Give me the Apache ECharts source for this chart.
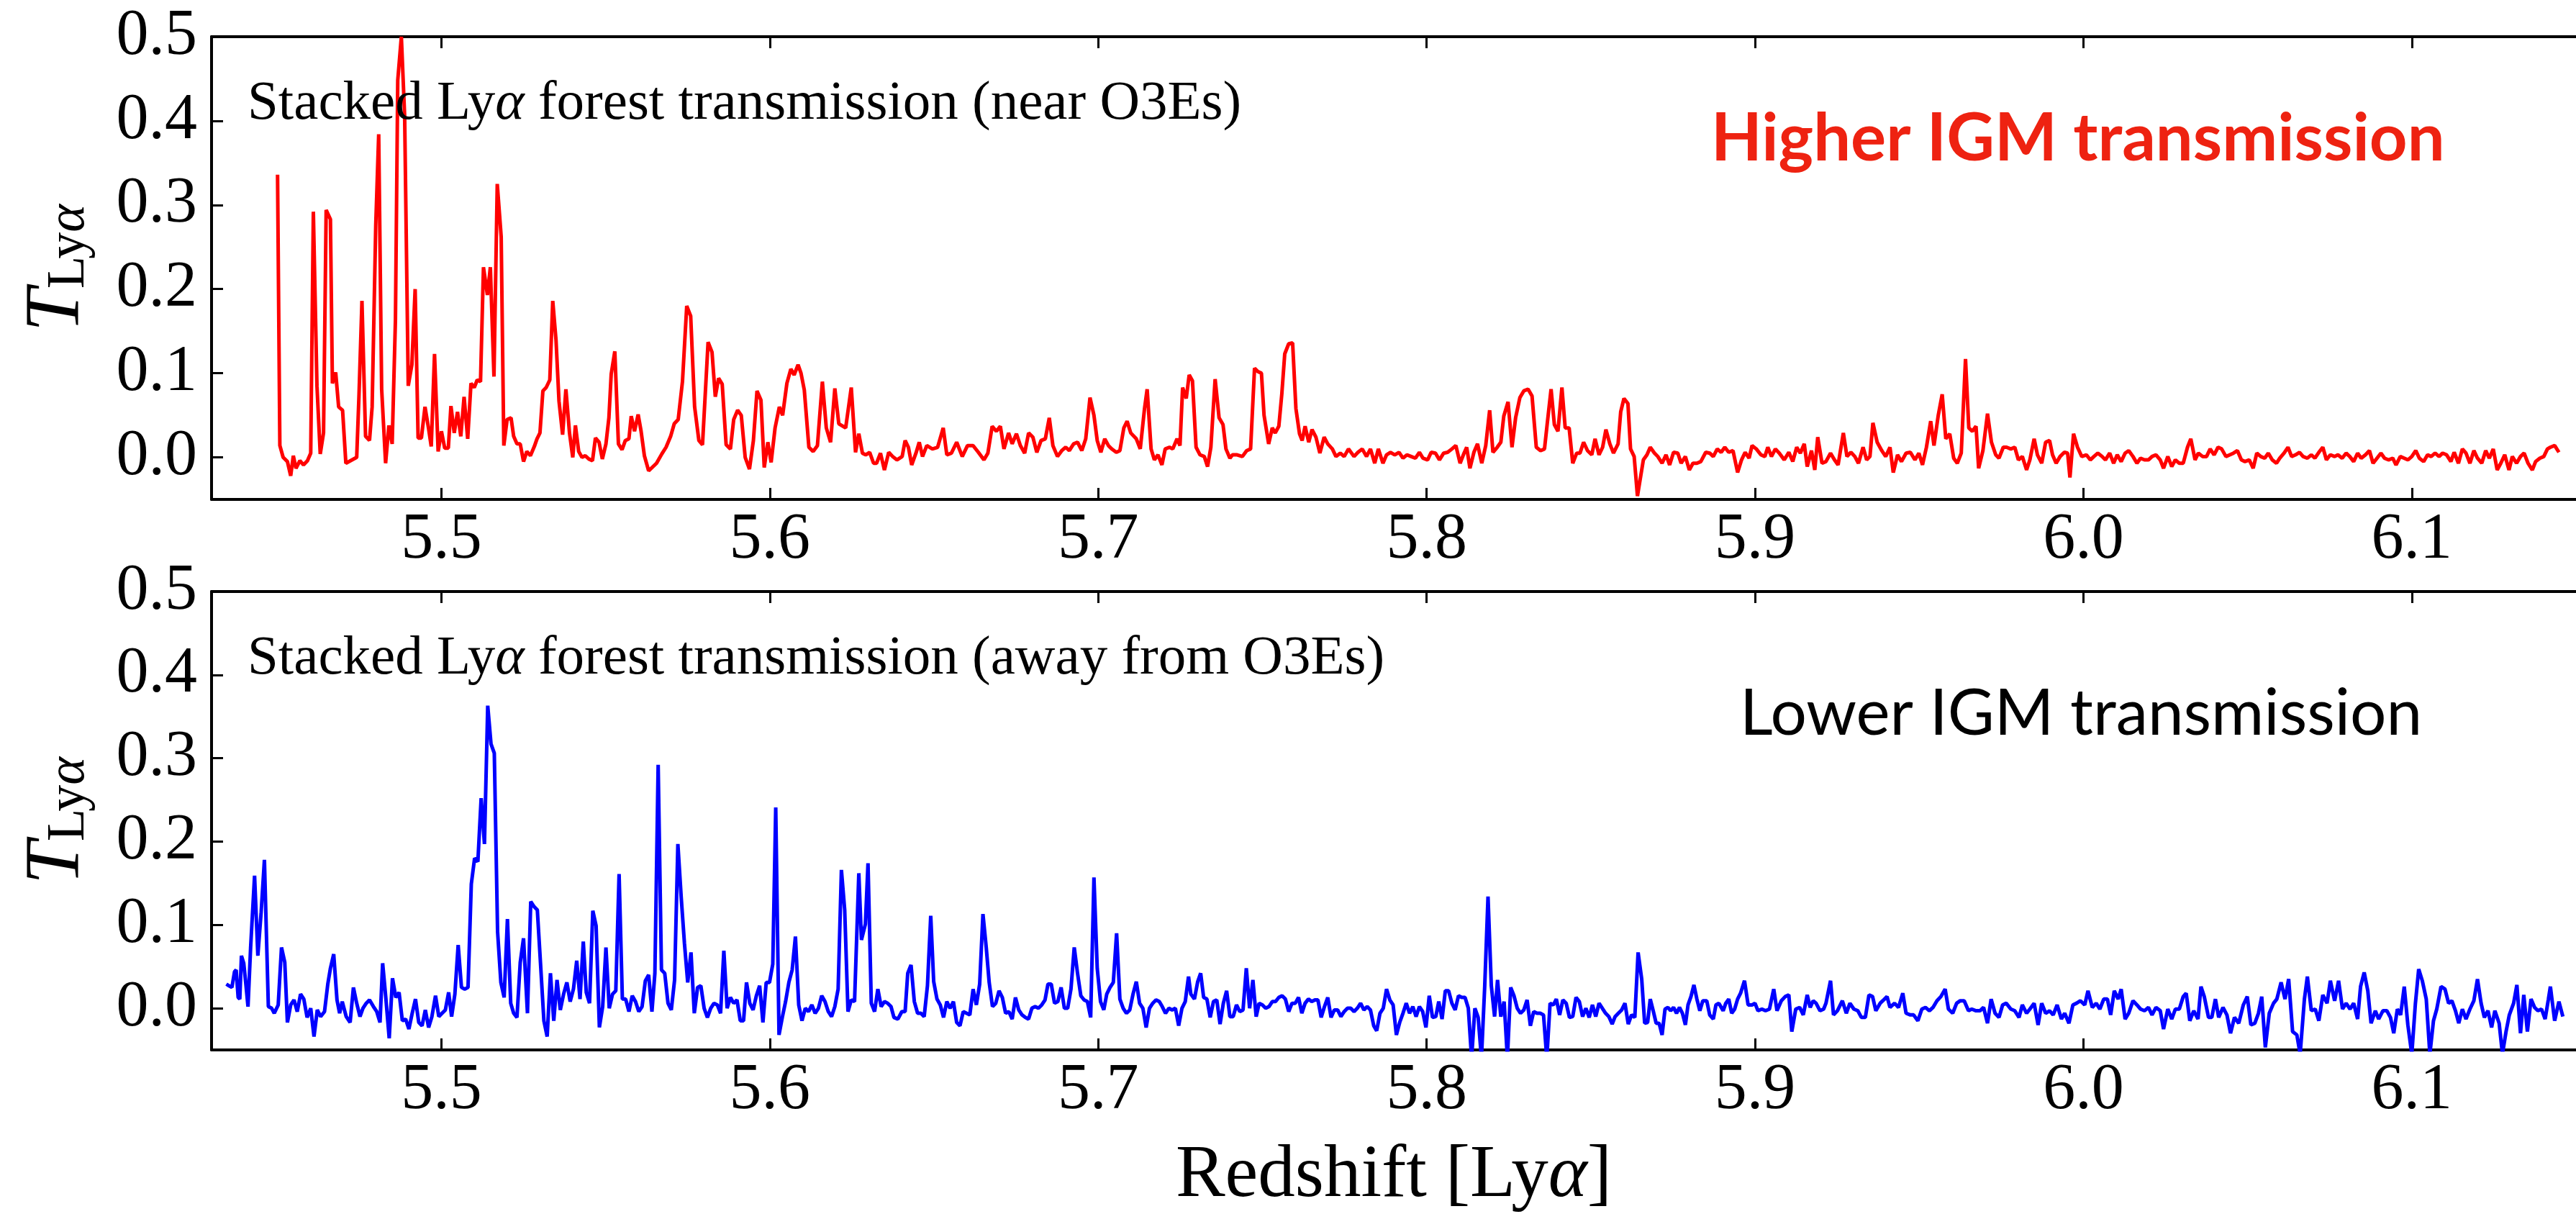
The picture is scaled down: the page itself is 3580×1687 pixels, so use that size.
<!DOCTYPE html>
<html>
<head>
<meta charset="utf-8">
<script src="https://cdn.jsdelivr.net/npm/echarts@6/dist/echarts.min.js"></script>
<style>
html,body{margin:0;padding:0;background:#fff;}
#chart{width:3580px;height:1687px;}
</style>
</head>
<body>
<div id="chart"></div>
<script>
// ---------------- DATA ----------------
const xTicks = [5.5, 5.6, 5.7, 5.8, 5.9, 6.0, 6.1];
const yTicks = [0.0, 0.1, 0.2, 0.3, 0.4, 0.5];

// Stacked Lya forest transmission near O3Es : [redshift, T]
const nearPoints = [
[5.4501,0.336],[5.4508,0.014],[5.4518,0.0],[5.4531,-0.005],[5.4541,-0.022],[5.4549,0.002],[5.4557,-0.013],[5.4569,-0.004],[5.4580,-0.009],[5.4592,-0.004],[5.4602,0.005],[5.4610,0.292],[5.4621,0.085],[5.4631,0.004],[5.4641,0.029],[5.4649,0.294],[5.4662,0.283],[5.4668,0.088],[5.4678,0.101],[5.4687,0.060],[5.4699,0.056],[5.4709,-0.007],[5.4723,-0.004],[5.4742,0.0],[5.4749,0.074],[5.4758,0.186],[5.4769,0.025],[5.4781,0.020],[5.4789,0.060],[5.4800,0.276],[5.4809,0.384],[5.4818,0.081],[5.4830,-0.007],[5.4840,0.038],[5.4850,0.016],[5.4860,0.164],[5.4867,0.448],[5.4878,0.500],[5.4888,0.406],[5.4899,0.085],[5.4910,0.110],[5.4920,0.200],[5.4929,0.023],[5.4939,0.023],[5.4950,0.060],[5.4961,0.034],[5.4969,0.013],[5.4979,0.123],[5.4990,0.007],[5.5000,0.031],[5.5010,0.011],[5.5021,0.011],[5.5029,0.061],[5.5039,0.029],[5.5049,0.054],[5.5059,0.025],[5.5069,0.072],[5.5080,0.022],[5.5090,0.088],[5.5100,0.083],[5.5109,0.092],[5.5119,0.090],[5.5128,0.226],[5.5140,0.193],[5.5149,0.226],[5.5160,0.096],[5.5170,0.325],[5.5182,0.262],[5.5190,0.014],[5.5200,0.045],[5.5212,0.047],[5.5220,0.025],[5.5230,0.016],[5.5240,0.016],[5.5250,-0.005],[5.5260,0.007],[5.5271,0.002],[5.5283,0.013],[5.5291,0.022],[5.5300,0.029],[5.5309,0.079],[5.5319,0.083],[5.5330,0.092],[5.5339,0.186],[5.5349,0.139],[5.5358,0.067],[5.5369,0.027],[5.5379,0.081],[5.5390,0.029],[5.5400,0.0],[5.5408,0.038],[5.5418,0.007],[5.5428,0.0],[5.5438,0.002],[5.5449,-0.002],[5.5460,-0.004],[5.5469,0.023],[5.5480,0.018],[5.5490,-0.002],[5.5501,0.016],[5.5510,0.047],[5.5517,0.099],[5.5528,0.126],[5.5539,0.016],[5.5550,0.009],[5.5560,0.020],[5.5571,0.022],[5.5578,0.049],[5.5588,0.031],[5.5599,0.051],[5.5608,0.031],[5.5618,0.002],[5.5631,-0.016],
[5.5655,-0.007],[5.5671,0.004],[5.5684,0.012],[5.5698,0.025],[5.5709,0.040],[5.5721,0.045],[5.5734,0.090],[5.5747,0.180],[5.5759,0.168],[5.5771,0.060],[5.5784,0.020],[5.5795,0.015],[5.5812,0.137],[5.5824,0.125],[5.5834,0.072],[5.5844,0.094],[5.5855,0.087],[5.5867,0.015],[5.5880,0.010],[5.5890,0.045],[5.5902,0.056],[5.5913,0.050],[5.5925,0.000],[5.5938,-0.014],[5.5950,0.020],[5.5961,0.079],[5.5973,0.068],[5.5983,-0.012],[5.5994,0.018],[5.6004,-0.006],[5.6016,0.035],[5.6029,0.060],[5.6039,0.050],[5.6052,0.088],[5.6064,0.105],[5.6074,0.098],[5.6086,0.110],[5.6095,0.100],[5.6105,0.080],[5.6119,0.012],[5.6132,0.007],[5.6145,0.014],[5.6160,0.090],[5.6172,0.035],[5.6185,0.018],[5.6198,0.082],[5.6210,0.040],[5.6231,0.035],[5.6248,0.083],[5.6261,0.006],
[5.6271,0.028],[5.6282,0.005],[5.6292,0.003],[5.6304,0.006],[5.6316,-0.007],[5.6325,-0.007],[5.6337,0.005],[5.6349,-0.015],[5.6362,0.006],[5.6374,0.001],[5.6387,-0.003],[5.6403,0.001],[5.6412,0.020],[5.6422,0.012],[5.6432,-0.009],[5.6445,0.005],[5.6455,0.018],[5.6465,0.001],[5.6478,0.014],[5.6495,0.010],[5.6511,0.012],[5.6528,0.035],[5.6539,0.003],[5.6553,0.005],[5.6569,0.018],[5.6586,0.001],[5.6602,0.014],[5.6619,0.014],[5.6635,0.006],[5.6652,-0.003],[5.6664,0.005],[5.6677,0.037],[5.6690,0.031],[5.6702,0.037],[5.6713,0.010],[5.6727,0.029],[5.6738,0.016],[5.6751,0.028],[5.6763,0.014],[5.6776,0.005],[5.6788,0.029],[5.6801,0.024],[5.6813,0.006],[5.6826,0.020],[5.6839,0.022],[5.6851,0.047],[5.6862,0.014],[5.6876,0.001],[5.6889,0.008],[5.6901,0.012],[5.6912,0.008],[5.6925,0.016],[5.6937,0.018],[5.6950,0.008],[5.6962,0.022],[5.6975,0.071],[5.6987,0.050],[5.6997,0.020],[5.7008,0.006],[5.7020,0.022],[5.7031,0.014],[5.7041,0.010],[5.7055,0.006],[5.7066,0.008],[5.7078,0.035],[5.7088,0.043],[5.7099,0.029],[5.7116,0.022],[5.7128,0.010],[5.7141,0.058],[5.7149,0.081],[5.7161,0.010],[5.7171,-0.003],[5.7182,0.003],[5.7194,-0.009],[5.7204,0.010],[5.7217,0.012],[5.7227,0.010],[5.7240,0.022],[5.7249,0.014],[5.7257,0.083],[5.7268,0.070],[5.7277,0.098],[5.7287,0.091],[5.7298,0.012],[5.7310,0.003],[5.7323,0.001],[5.7333,-0.011],[5.7343,0.012],[5.7356,0.093],[5.7368,0.047],[5.7380,0.039],[5.7389,0.010],[5.7401,-0.001],[5.7409,0.003],[5.7423,0.003],[5.7439,0.001],[5.7452,0.008],[5.7464,0.010],[5.7476,0.106],[5.7486,0.102],[5.7497,0.100],[5.7505,0.050],[5.7519,0.016],[5.7530,0.035],[5.7539,0.029],[5.7550,0.037],[5.7559,0.075],[5.7568,0.123],[5.7580,0.135],[5.7592,0.136],[5.7602,0.058],[5.7613,0.028],[5.7621,0.020],[5.7630,0.037],[5.7641,0.018],[5.7651,0.033],[5.7663,0.024],[5.7675,0.005],[5.7688,0.024],[5.7699,0.016],[5.7713,0.010],[5.7724,0.001],[5.7737,0.005],[5.7749,0.001],[5.7762,0.010],[5.7779,0.001],[5.7791,0.006],[5.7804,0.010],[5.7817,0.001],[5.7829,0.010],[5.7842,-0.007],[5.7853,0.010],[5.7867,-0.007],[5.7878,0.003],[5.7890,0.006],[5.7903,0.003],[5.7916,0.006],[5.7928,-0.001],[5.7940,0.003],[5.7953,0.001],[5.7966,-0.001],[5.7978,0.006],[5.7989,-0.001],[5.8003,-0.003],[5.8014,0.006],[5.8027,0.005],[5.8039,-0.003],[5.8052,0.005],[5.8064,0.006],[5.8077,0.010],[5.8089,0.014],[5.8102,-0.007],[5.8114,0.005],[5.8122,0.012],[5.8132,-0.013],[5.8144,0.006],[5.8155,0.016],[5.8168,-0.007],[5.8180,0.014],[5.8192,0.056],[5.8202,0.006],[5.8215,0.012],[5.8226,0.018],[5.8235,0.049],[5.8248,0.066],[5.8260,0.012],[5.8271,0.047],[5.8284,0.071],[5.8296,0.079],[5.8309,0.081],[5.8321,0.073],[5.8334,0.012],[5.8347,0.008],[5.8359,0.010],[5.8367,0.039],[5.8379,0.081],[5.8389,0.039],[5.8400,0.031],[5.8412,0.083],[5.8422,0.035],[5.8434,0.035],[5.8445,-0.007],[5.8457,0.005],[5.8467,0.005],[5.8478,0.018],[5.8490,0.008],[5.8503,0.003],[5.8513,0.022],[5.8525,0.003],[5.8536,0.012],[5.8546,0.033],[5.8558,0.016],[5.8569,0.005],[5.8583,0.016],[5.8591,0.054],[5.8601,0.070],[5.8613,0.064],[5.8621,0.010],[5.8632,0.001],[5.8642,-0.046],
[5.8660,-0.003],[5.8671,0.003],[5.8681,0.012],[5.8694,0.005],[5.8704,0.001],[5.8717,-0.007],[5.8729,0.003],[5.8740,-0.009],[5.8752,0.006],[5.8765,0.005],[5.8775,-0.007],[5.8788,0.001],[5.8800,-0.015],[5.8811,-0.007],[5.8823,-0.007],[5.8835,-0.005],[5.8850,0.006],[5.8862,0.005],[5.8873,0.001],[5.8885,0.010],[5.8897,0.006],[5.8908,0.012],[5.8920,0.006],[5.8933,0.008],[5.8947,-0.018],[5.8959,-0.003],[5.8970,0.006],[5.8982,-0.001],[5.8991,0.014],[5.9004,0.010],[5.9018,0.003],[5.9030,0.001],[5.9039,0.012],[5.9050,0.001],[5.9062,0.010],[5.9074,0.005],[5.9089,-0.003],[5.9103,0.006],[5.9115,-0.005],[5.9127,0.012],[5.9138,0.005],[5.9150,0.016],[5.9159,-0.011],[5.9172,0.008],[5.9182,-0.015],[5.9191,0.024],[5.9204,-0.007],[5.9216,-0.005],[5.9230,0.005],[5.9242,-0.003],[5.9253,-0.009],[5.9269,0.029],[5.9280,0.001],[5.9292,0.006],[5.9304,0.001],[5.9315,-0.007],[5.9329,0.012],[5.9340,-0.003],[5.9350,0.001],[5.9359,0.041],[5.9372,0.018],[5.9386,0.008],[5.9398,0.001],[5.9411,0.012],[5.9421,-0.018],[5.9434,0.003],[5.9446,-0.005],[5.9460,0.005],[5.9473,0.006],[5.9487,-0.003],[5.9499,0.005],[5.9510,-0.009],[5.9522,0.012],[5.9535,0.043],[5.9545,0.014],[5.9558,0.050],[5.9570,0.075],[5.9581,0.022],[5.9593,0.028],[5.9605,-0.001],[5.9616,-0.007],[5.9628,0.005],[5.9641,0.117],[5.9651,0.035],[5.9662,0.031],[5.9673,0.037],[5.9681,-0.013],[5.9694,0.008],[5.9708,0.052],[5.9720,0.018],[5.9733,0.003],[5.9743,-0.001],[5.9756,0.012],[5.9766,0.012],[5.9779,0.010],[5.9791,0.012],[5.9802,-0.003],[5.9814,0.001],[5.9827,-0.015],[5.9837,-0.003],[5.9850,0.022],[5.9860,0.003],[5.9873,-0.007],[5.9885,0.018],[5.9897,0.020],[5.9906,0.003],[5.9917,-0.007],[5.9929,0.001],[5.9942,0.006],[5.9952,0.005],[5.9959,-0.024],[5.9970,0.028],[5.9982,0.012],[5.9995,0.001],[6.0009,0.003],[6.0021,-0.003],[6.0032,0.001],[6.0044,0.005],[6.0057,0.001],[6.0067,-0.003],[6.0080,0.005],[6.0092,-0.007],[6.0103,0.003],[6.0115,-0.005],[6.0127,0.005],[6.0138,0.008],[6.0151,0.001],[6.0163,-0.007],[6.0174,-0.001],[6.0186,-0.003],[6.0198,-0.003],[6.0209,0.001],[6.0221,0.003],[6.0234,-0.003],[6.0244,-0.013],[6.0257,0.001],[6.0269,-0.011],[6.0280,-0.003],[6.0292,-0.007],[6.0304,-0.007],[6.0317,0.012],[6.0327,0.022],[6.0340,-0.003],[6.0350,0.005],[6.0363,0.001],[6.0375,0.001],[6.0386,0.010],[6.0398,0.003],[6.0410,0.012],[6.0421,0.010],[6.0434,0.001],[6.0446,0.003],[6.0457,0.005],[6.0469,0.008],[6.0481,-0.003],[6.0492,-0.005],[6.0505,-0.003],[6.0517,-0.013],[6.0528,0.005],[6.0540,0.001],[6.0552,-0.001],[6.0563,0.005],[6.0575,-0.003],[6.0588,-0.007],[6.0598,-0.001],[6.0611,0.005],[6.0623,0.012],[6.0634,0.001],[6.0646,0.003],[6.0658,0.006],[6.0669,0.001],[6.0682,-0.001],[6.0694,0.003],[6.0705,-0.001],[6.0717,0.006],[6.0729,0.012],[6.0740,-0.003],[6.0752,0.003],[6.0765,0.001],[6.0775,0.003],[6.0788,-0.001],[6.0800,0.005],[6.0811,0.001],[6.0823,-0.005],[6.0835,0.005],[6.0846,-0.001],[6.0859,0.003],[6.0871,0.008],[6.0882,-0.007],[6.0894,-0.001],[6.0906,0.005],[6.0917,-0.001],[6.0929,-0.003],[6.0942,-0.001],[6.0952,-0.009],[6.0965,0.001],[6.0977,-0.001],[6.0988,-0.003],[6.1000,0.001],[6.1012,0.008],[6.1023,-0.001],[6.1036,-0.005],[6.1048,0.003],[6.1059,0.001],[6.1071,0.005],[6.1083,0.001],[6.1094,0.005],[6.1106,0.003],[6.1119,-0.005],[6.1129,0.006],[6.1142,-0.007],[6.1154,0.010],[6.1165,0.005],[6.1177,-0.007],[6.1189,0.008],[6.1200,-0.001],[6.1213,-0.007],[6.1225,0.008],[6.1236,-0.001],[6.1248,0.010],[6.1260,-0.015],[6.1271,-0.007],[6.1283,0.003],[6.1296,-0.015],[6.1306,0.001],[6.1319,-0.007],[6.1331,0.001],[6.1342,0.005],[6.1354,-0.007],[6.1367,-0.015],[6.1377,-0.005],[6.1390,-0.001],[6.1402,0.001],[6.1413,0.010],[6.1422,0.012],[6.1435,0.014],[6.1448,0.006]
];

// Stacked Lya forest transmission away from O3Es : [redshift, T]
const awayPoints = [
[5.4345,0.029],[5.4353,0.027],[5.4362,0.025],[5.4370,0.044],[5.4375,0.046],[5.4381,0.013],[5.4386,0.011],[5.4391,0.063],[5.4398,0.054],[5.4405,0.027],[5.4411,0.002],[5.4419,0.073],[5.4431,0.159],[5.4441,0.063],[5.4451,0.115],[5.4461,0.178],[5.4473,0.002],[5.4483,0.000],[5.4491,-0.006],[5.4503,0.004],[5.4513,0.073],[5.4523,0.055],[5.4531,-0.017],[5.4541,0.004],[5.4551,0.010],[5.4561,-0.004],[5.4571,0.017],[5.4581,0.011],[5.4591,-0.011],[5.4602,0.000],[5.4612,-0.034],[5.4622,-0.002],[5.4632,-0.010],[5.4644,-0.004],[5.4654,0.029],[5.4662,0.048],[5.4672,0.065],[5.4682,0.010],[5.4690,-0.006],[5.4698,0.008],[5.4710,-0.010],[5.4722,-0.017],[5.4732,0.025],[5.4742,0.006],[5.4752,-0.010],[5.4761,0.000],[5.4771,0.006],[5.4781,0.010],[5.4793,0.002],[5.4803,-0.004],[5.4813,-0.017],[5.4821,0.054],[5.4831,0.011],[5.4841,-0.036],[5.4851,0.036],[5.4861,0.013],[5.4871,0.019],[5.4881,-0.015],[5.4891,-0.013],[5.4901,-0.025],[5.4911,-0.006],[5.4921,0.011],[5.4931,-0.017],[5.4941,-0.021],[5.4951,-0.002],[5.4961,-0.023],[5.4971,-0.010],[5.4982,0.015],[5.4992,-0.010],[5.5002,-0.006],[5.5012,-0.002],[5.5022,0.019],[5.5031,-0.010],[5.5041,0.017],[5.5051,0.076],[5.5061,0.025],[5.5071,0.023],[5.5081,0.025],[5.5091,0.149],[5.5101,0.180],[5.5111,0.176],[5.5121,0.252],[5.5131,0.197],[5.5141,0.363],[5.5151,0.317],[5.5161,0.306],[5.5171,0.092],[5.5181,0.031],[5.5191,0.013],[5.5201,0.107],[5.5211,0.006],[5.5220,-0.006],[5.5230,-0.011],[5.5240,0.055],[5.5250,0.084],[5.5262,-0.006],[5.5272,0.128],[5.5282,0.122],[5.5292,0.118],[5.5302,0.052],[5.5312,-0.015],[5.5322,-0.034],[5.5332,0.042],[5.5342,-0.015],[5.5352,0.034],[5.5362,-0.002],[5.5372,0.017],[5.5382,0.031],[5.5392,0.008],[5.5402,0.023],[5.5412,0.057],[5.5422,0.011],[5.5432,0.080],[5.5441,0.019],[5.5451,0.006],[5.5461,0.117],[5.5471,0.099],[5.5481,-0.023],[5.5491,0.002],[5.5501,0.073],[5.5511,0.000],[5.5521,0.017],[5.5531,0.021],[5.5541,0.161],[5.5551,0.011],[5.5561,0.011],[5.5571,-0.004],[5.5581,0.015],[5.5591,0.008],[5.5601,-0.004],[5.5611,0.002],[5.5621,0.033],[5.5631,0.040],[5.5641,-0.004],[5.5650,0.042],[5.5660,0.292],[5.5670,0.046],[5.5680,0.042],[5.5690,0.006],[5.5700,-0.002],[5.5710,0.034],[5.5720,0.197],[5.5730,0.134],[5.5740,0.078],[5.5750,0.031],[5.5760,0.067],[5.5770,-0.006],[5.5780,0.025],[5.5790,0.027],[5.5800,0.000],[5.5810,-0.011],[5.5820,0.000],[5.5830,0.006],[5.5840,0.004],[5.5850,-0.006],[5.5860,0.069],[5.5870,0.000],[5.5880,0.013],[5.5890,0.006],[5.5900,0.010],[5.5910,-0.015],[5.5920,-0.015],[5.5929,0.031],[5.5939,0.006],[5.5949,-0.002],[5.5959,0.015],[5.5969,0.027],[5.5979,-0.017],[5.5989,0.031],[5.5999,0.031],[5.6009,0.053],[5.6018,0.241],[5.6028,-0.032],[5.6038,-0.011],[5.6048,0.008],[5.6058,0.031],[5.6068,0.046],[5.6078,0.086],[5.6088,0.004],[5.6098,-0.015],[5.6108,0.000],[5.6118,-0.004],[5.6128,0.004],[5.6138,-0.006],[5.6148,0.000],[5.6158,0.015],[5.6168,0.008],[5.6178,-0.004],[5.6188,-0.010],[5.6198,0.002],[5.6208,0.023],[5.6218,0.166],[5.6228,0.118],[5.6238,-0.004],[5.6248,0.010],[5.6258,0.008],
[5.6271,0.162],[5.6279,0.082],[5.6291,0.101],[5.6299,0.174],[5.6309,0.006],[5.6319,-0.004],[5.6329,0.023],[5.6339,0.002],[5.6349,0.008],[5.6359,0.006],[5.6369,0.002],[5.6378,-0.011],[5.6390,-0.013],[5.6402,-0.004],[5.6412,-0.004],[5.6420,0.042],[5.6430,0.052],[5.6440,0.008],[5.6450,-0.006],[5.6460,-0.006],[5.6470,-0.010],[5.6480,0.027],[5.6490,0.111],[5.6499,0.032],[5.6509,0.011],[5.6519,0.004],[5.6529,-0.011],[5.6539,0.008],[5.6549,0.000],[5.6559,0.008],[5.6569,-0.017],[5.6579,-0.021],[5.6589,-0.004],[5.6599,-0.006],[5.6609,-0.008],[5.6619,0.023],[5.6629,0.004],[5.6639,0.029],[5.6649,0.113],[5.6659,0.073],[5.6668,0.031],[5.6678,0.002],[5.6688,0.006],[5.6698,0.021],[5.6708,0.013],[5.6718,-0.006],[5.6728,-0.004],[5.6738,-0.013],[5.6748,0.013],[5.6758,-0.002],[5.6768,-0.008],[5.6778,-0.011],[5.6788,-0.013],[5.6798,0.000],[5.6808,0.002],[5.6818,0.000],[5.6828,0.004],[5.6838,0.010],[5.6847,0.029],[5.6857,0.029],[5.6867,0.006],[5.6877,0.008],[5.6887,0.025],[5.6897,0.000],[5.6907,0.000],[5.6917,0.023],[5.6927,0.073],[5.6937,0.042],[5.6947,0.015],[5.6957,0.010],[5.6967,0.008],[5.6977,-0.011],[5.6987,0.157],[5.6997,0.048],[5.7007,0.008],[5.7017,-0.002],[5.7026,0.017],[5.7036,0.025],[5.7046,0.031],[5.7056,0.090],[5.7066,0.011],[5.7076,0.000],[5.7086,-0.006],[5.7096,-0.002],[5.7106,0.017],[5.7116,0.032],[5.7126,0.006],[5.7136,0.000],[5.7146,-0.023],[5.7156,0.000],[5.7166,0.006],[5.7176,0.010],[5.7186,0.008],[5.7195,0.002],[5.7205,-0.006],[5.7215,0.000],[5.7225,-0.002],[5.7235,0.000],[5.7245,-0.021],[5.7255,0.000],[5.7265,0.008],[5.7275,0.038],[5.7282,0.017],[5.7293,0.011],[5.7303,0.032],[5.7312,0.042],[5.7321,0.013],[5.7331,0.011],[5.7341,-0.011],[5.7351,0.008],[5.7361,0.010],[5.7371,-0.019],[5.7381,0.006],[5.7391,0.021],[5.7401,-0.010],[5.7411,-0.010],[5.7421,0.004],[5.7431,-0.004],[5.7441,-0.002],[5.7451,0.048],[5.7461,0.000],[5.7471,0.034],[5.7481,-0.010],[5.7490,0.006],[5.7500,0.004],[5.7510,0.000],[5.7520,0.002],[5.7530,0.008],[5.7540,0.008],[5.7550,0.013],[5.7560,0.015],[5.7570,0.011],[5.7580,-0.004],[5.7590,0.006],[5.7600,0.006],[5.7610,0.013],[5.7620,-0.006],[5.7630,0.006],[5.7640,0.011],[5.7650,0.008],[5.7660,0.010],[5.7669,0.010],[5.7679,-0.011],[5.7689,0.002],[5.7699,0.013],[5.7709,-0.011],[5.7719,-0.002],[5.7729,-0.002],[5.7739,-0.010],[5.7749,-0.004],[5.7759,0.000],[5.7769,0.000],[5.7779,-0.004],[5.7789,0.000],[5.7799,0.006],[5.7809,-0.002],[5.7819,0.002],[5.7829,-0.002],[5.7839,-0.021],[5.7848,-0.027],[5.7858,-0.006],[5.7868,0.000],[5.7878,0.023],[5.7888,0.010],[5.7898,0.004],[5.7908,-0.032],[5.7918,-0.017],[5.7928,-0.006],[5.7938,0.006],[5.7948,-0.006],[5.7958,0.002],[5.7968,-0.010],[5.7978,0.002],[5.7988,-0.004],[5.7998,-0.023],[5.8008,0.015],[5.8018,-0.011],[5.8028,-0.010],[5.8037,0.008],[5.8047,-0.013],[5.8057,0.021],[5.8067,0.021],[5.8077,0.006],[5.8087,-0.002],[5.8097,0.015],[5.8107,0.013],[5.8117,0.013],[5.8127,0.000],[5.8137,-0.060],[5.8147,0.000],[5.8157,-0.011],[5.8167,-0.060],[5.8177,0.027],[5.8187,0.134],[5.8197,0.027],[5.8207,-0.010],[5.8216,0.034],[5.8226,-0.010],[5.8236,0.008],[5.8246,-0.060],[5.8256,0.025],[5.8266,0.015],[5.8276,0.000],[5.8286,-0.006],[5.8296,-0.002],[5.8306,0.010],[5.8316,-0.021],[5.8326,-0.004],[5.8336,-0.006],[5.8346,-0.006],[5.8356,-0.008],[5.8366,-0.060],[5.8376,0.006],[5.8386,0.004],[5.8395,0.011],[5.8405,-0.008],[5.8415,0.010],[5.8425,0.006],[5.8435,-0.011],[5.8445,-0.010],[5.8455,0.013],[5.8465,0.008],[5.8475,-0.010],[5.8485,0.000],[5.8495,-0.011],[5.8505,0.004],[5.8515,-0.010],[5.8525,0.006],[5.8535,0.000],[5.8545,-0.006],[5.8555,-0.010],[5.8565,-0.019],[5.8574,-0.010],[5.8584,-0.006],[5.8594,-0.002],[5.8604,0.006],[5.8614,-0.019],[5.8624,-0.008],[5.8634,-0.011],[5.8644,0.067],
[5.8655,0.035],[5.8664,-0.018],[5.8673,-0.017],[5.8681,0.011],[5.8690,-0.003],[5.8699,-0.018],[5.8708,-0.018],[5.8717,-0.032],[5.8726,-0.001],[5.8735,0.001],[5.8743,-0.003],[5.8752,0.001],[5.8761,-0.006],[5.8770,0.001],[5.8779,-0.006],[5.8788,-0.020],[5.8796,0.004],[5.8805,0.014],[5.8814,0.028],[5.8823,0.011],[5.8832,-0.003],[5.8841,0.009],[5.8853,0.009],[5.8862,-0.008],[5.8873,-0.013],[5.8881,0.004],[5.8890,0.006],[5.8903,-0.003],[5.8911,0.006],[5.8920,0.011],[5.8929,-0.006],[5.8938,-0.001],[5.8947,0.011],[5.8956,0.018],[5.8968,0.033],[5.8979,0.004],[5.8991,0.004],[5.9000,0.006],[5.9009,-0.003],[5.9021,-0.001],[5.9032,-0.003],[5.9044,-0.001],[5.9057,0.023],[5.9067,-0.003],[5.9080,0.009],[5.9092,0.014],[5.9103,0.016],[5.9112,-0.028],[5.9124,-0.001],[5.9136,0.001],[5.9147,-0.008],[5.9159,0.016],[5.9168,0.001],[5.9177,0.009],[5.9186,0.006],[5.9198,-0.003],[5.9209,-0.001],[5.9216,0.006],[5.9230,0.033],[5.9239,-0.008],[5.9251,-0.003],[5.9266,0.009],[5.9278,-0.006],[5.9289,0.006],[5.9301,-0.001],[5.9313,-0.003],[5.9324,-0.011],[5.9336,-0.011],[5.9347,0.016],[5.9358,0.014],[5.9368,-0.003],[5.9381,0.006],[5.9389,0.009],[5.9402,0.014],[5.9411,0.001],[5.9425,0.006],[5.9437,0.001],[5.9450,0.018],[5.9460,-0.006],[5.9473,-0.008],[5.9483,-0.008],[5.9496,-0.015],[5.9508,-0.001],[5.9519,0.001],[5.9531,-0.003],[5.9542,0.001],[5.9554,0.009],[5.9566,0.014],[5.9579,0.023],[5.9589,-0.001],[5.9602,-0.006],[5.9614,0.006],[5.9625,0.009],[5.9637,0.009],[5.9650,-0.003],[5.9660,-0.001],[5.9673,-0.003],[5.9685,-0.003],[5.9696,0.001],[5.9708,-0.018],[5.9719,0.011],[5.9731,-0.006],[5.9743,-0.011],[5.9754,0.004],[5.9765,0.006],[5.9779,-0.001],[5.9791,-0.003],[5.9804,-0.011],[5.9814,0.004],[5.9827,-0.006],[5.9837,-0.001],[5.9850,0.006],[5.9862,-0.020],[5.9873,0.006],[5.9885,-0.006],[5.9897,-0.003],[5.9908,-0.008],[5.9920,0.004],[5.9933,-0.013],[5.9943,-0.006],[5.9956,-0.018],[5.9968,0.004],[5.9979,0.006],[5.9991,0.009],[6.0004,0.004],[6.0014,0.021],[6.0027,0.001],[6.0039,0.006],[6.0050,-0.001],[6.0062,0.011],[6.0073,0.011],[6.0083,-0.008],[6.0094,0.021],[6.0106,0.011],[6.0115,0.023],[6.0127,-0.013],[6.0138,-0.006],[6.0151,0.009],[6.0163,0.004],[6.0174,-0.001],[6.0186,-0.003],[6.0198,0.001],[6.0209,-0.008],[6.0221,0.001],[6.0234,-0.003],[6.0244,-0.025],[6.0257,-0.001],[6.0269,-0.013],[6.0280,-0.001],[6.0292,-0.001],[6.0304,0.014],[6.0313,0.018],[6.0324,-0.015],[6.0336,-0.003],[6.0349,-0.013],[6.0358,0.026],[6.0368,0.014],[6.0381,-0.011],[6.0391,-0.011],[6.0402,0.011],[6.0412,-0.011],[6.0425,0.001],[6.0437,-0.008],[6.0448,-0.030],[6.0460,-0.011],[6.0473,-0.018],[6.0487,0.004],[6.0499,0.014],[6.0510,-0.020],[6.0522,-0.018],[6.0533,-0.006],[6.0543,0.014],[6.0554,-0.047],[6.0566,-0.006],[6.0579,0.006],[6.0589,0.011],[6.0602,0.031],[6.0614,0.011],[6.0625,0.035],[6.0637,-0.028],[6.0650,-0.032],[6.0660,-0.055],[6.0673,0.011],[6.0682,0.038],[6.0694,-0.003],[6.0706,-0.001],[6.0717,-0.015],[6.0729,0.016],[6.0742,0.006],[6.0752,0.033],[6.0765,0.009],[6.0777,0.033],[6.0789,-0.001],[6.0800,0.006],[6.0812,-0.001],[6.0823,0.006],[6.0835,-0.013],[6.0844,0.026],[6.0855,0.043],[6.0866,0.021],[6.0876,-0.018],[6.0889,-0.003],[6.0899,-0.013],[6.0912,-0.003],[6.0924,-0.003],[6.0935,-0.011],[6.0945,-0.030],[6.0956,-0.001],[6.0966,-0.008],[6.0977,0.026],[6.0988,-0.020],[6.1000,-0.055],[6.1011,0.006],[6.1021,0.047],[6.1032,0.033],[6.1044,0.011],[6.1055,-0.055],[6.1066,-0.015],[6.1076,-0.001],[6.1089,0.026],[6.1101,0.023],[6.1112,0.006],[6.1122,0.009],[6.1133,-0.003],[6.1143,-0.018],[6.1154,-0.001],[6.1165,-0.013],[6.1177,-0.001],[6.1189,0.009],[6.1200,0.035],[6.1211,0.006],[6.1221,-0.011],[6.1232,-0.003],[6.1243,-0.023],[6.1253,-0.003],[6.1266,-0.018],[6.1276,-0.055],[6.1287,-0.028],[6.1297,-0.008],[6.1310,0.006],[6.1320,0.028],[6.1331,-0.030],[6.1341,0.016],[6.1352,-0.028],[6.1363,0.011],[6.1374,0.001],[6.1384,-0.003],[6.1395,-0.001],[6.1406,-0.013],[6.1416,0.011],[6.1422,0.026],[6.1435,-0.015],[6.1448,0.008],[6.1460,-0.010]
];

// ---------------- CHART ----------------
const SERIF = 'Liberation Serif';
const SANS = 'Lato';
const chart = echarts.init(document.getElementById('chart'), null, {renderer: 'canvas'});

function xAxisDef(gridIndex, pos, withLabels, withName) {
  return {
    gridIndex: gridIndex, type: 'value', position: pos,
    min: 5.43, max: 6.15,
    axisLine: {show: true, onZero: false, lineStyle: {color: '#000', width: 4}},
    axisTick: {show: true, inside: true, length: 16, customValues: xTicks,
               lineStyle: {color: '#000', width: 3}},
    axisLabel: {show: withLabels, customValues: xTicks, margin: 12,
                formatter: v => v.toFixed(1),
                fontFamily: SERIF, fontSize: 90, color: '#000'},
    splitLine: {show: false},
    name: withName ? '{n|Redshift [Ly}{a|α}{n|]}' : '',
    nameLocation: 'middle', nameGap: 124,
    nameTextStyle: {rich: {
      n: {fontFamily: SERIF, fontSize: 103, color: '#000'},
      a: {fontFamily: SERIF, fontSize: 103, fontStyle: 'italic', color: '#000'}
    }}
  };
}
function yAxisDef(gridIndex) {
  return {
    gridIndex: gridIndex, type: 'value', min: -0.05, max: 0.5,
    axisLine: {show: true, onZero: false, lineStyle: {color: '#000', width: 4}},
    axisTick: {show: true, inside: true, length: 16, customValues: yTicks,
               lineStyle: {color: '#000', width: 3}},
    axisLabel: {customValues: yTicks, margin: 20, formatter: v => v.toFixed(1),
                fontFamily: SERIF, fontSize: 90, color: '#000'},
    splitLine: {show: false},
    name: '{t|T}{s|Ly}{a|α}',
    nameLocation: 'middle', nameRotate: 90, nameGap: 160,
    nameTextStyle: {rich: {
      t: {fontFamily: SERIF, fontSize: 108, fontStyle: 'italic', color: '#000',
          lineHeight: 108, verticalAlign: 'top'},
      s: {fontFamily: SERIF, fontSize: 74, color: '#000',
          lineHeight: 54, verticalAlign: 'bottom'},
      a: {fontFamily: SERIF, fontSize: 74, fontStyle: 'italic', color: '#000',
          lineHeight: 54, verticalAlign: 'bottom'}
    }}
  };
}

const option = {
  animation: false,
  backgroundColor: '#ffffff',
  grid: [
    {left: 294, right: -37, top: 51, height: 643},
    {left: 294, right: -37, top: 822, height: 644}
  ],
  xAxis: [
    xAxisDef(0, 'bottom', true, false),
    xAxisDef(0, 'top', false, false),
    xAxisDef(1, 'bottom', true, true),
    xAxisDef(1, 'top', false, false)
  ],
  yAxis: [yAxisDef(0), yAxisDef(1)],
  series: [
    {type: 'line', xAxisIndex: 0, yAxisIndex: 0, data: nearPoints,
     showSymbol: false, symbol: 'none', clip: true,
     lineStyle: {color: '#ff0000', width: 5}},
    {type: 'line', xAxisIndex: 2, yAxisIndex: 1, data: awayPoints,
     showSymbol: false, symbol: 'none', clip: true,
     lineStyle: {color: '#0000ff', width: 5}}
  ],
  graphic: [
    {type: 'text', left: 344, top: 106, z: 10,
     style: {text: '{n|Stacked Ly}{a|α}{n| forest transmission (near O3Es)}',
       rich: {n: {fontFamily: SERIF, fontSize: 77, fill: '#000'},
              a: {fontFamily: SERIF, fontSize: 77, fontStyle: 'italic', fill: '#000'}}}},
    {type: 'text', left: 344, top: 877, z: 10,
     style: {text: '{n|Stacked Ly}{a|α}{n| forest transmission (away from O3Es)}',
       rich: {n: {fontFamily: SERIF, fontSize: 77, fill: '#000'},
              a: {fontFamily: SERIF, fontSize: 77, fontStyle: 'italic', fill: '#000'}}}},
    {type: 'text', left: 2378, top: 147, z: 10,
     style: {text: 'Higher IGM transmission', fontFamily: SANS, fontWeight: 'bold',
             fontSize: 92, fill: '#ee2211'}},
    {type: 'text', left: 2418, top: 948, z: 10,
     style: {text: 'Lower IGM transmission', fontFamily: SANS, fontWeight: 'normal',
             fontSize: 89, fill: '#000'}}
  ]
};
chart.setOption(option);
</script>
</body>
</html>
